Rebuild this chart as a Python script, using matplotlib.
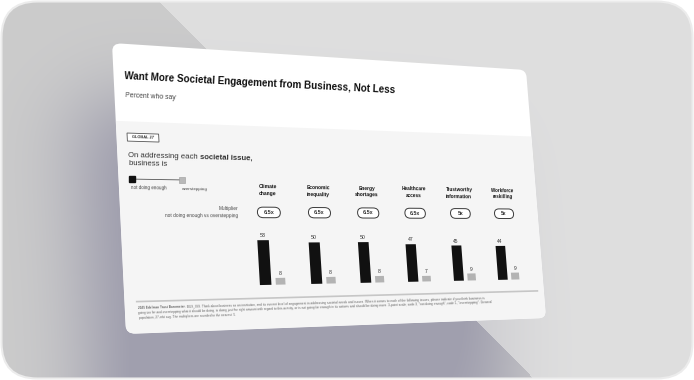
import numpy as np
import matplotlib
matplotlib.use("Agg")
import matplotlib.pyplot as plt
from matplotlib import transforms as mtransforms
from matplotlib import font_manager
from matplotlib.path import Path
from matplotlib.patches import FancyBboxPatch, Rectangle

# ---------------- data ----------------
categories = ["Climate\nchange", "Economic\ninequality", "Energy\nshortages",
              "Healthcare\naccess", "Trustworthy\ninformation", "Workforce\nreskilling"]
not_doing_enough = [53, 50, 50, 47, 45, 44]
overstepping = [8, 8, 8, 7, 9, 9]
multipliers = ["6.5x", "6.5x", "6.5x", "6.5x", "5x", "5x"]
series_labels = ["not doing enough", "overstepping"]
title = "Want More Societal Engagement from Business, Not Less"
subtitle = "Percent who say"
badge = "GLOBAL 27"
question_plain = "On addressing each "
question_bold = "societal issue,"
question_line2 = "business is"
multiplier_label = ["Multiplier", "not doing enough vs overstepping"]
footnote_bold = "2025 Edelman Trust Barometer."
footnote_rest = [
    " BUS_ISS. Think about business as an institution, and its current level of engagement in addressing societal needs and issues. When it comes to each of the following issues, please indicate if you think business is",
    "going too far and overstepping what it should be doing, is doing just the right amount with regard to this activity, or is not going far enough in its actions and should be doing more. 3-point scale; code 3, \"not doing enough\", code 1, \"overstepping\". General",
    "population, 27-mkt avg. The multipliers are rounded to the nearest .5.",
]

# ---------------- fonts ----------------
names = {f.name for f in font_manager.fontManager.ttflist}
BASE = ["Liberation Sans", "DejaVu Sans"]
HAS_NARROW = "Liberation Sans Narrow" in names
TITLE_FAM = ["Liberation Sans Narrow", "Liberation Sans", "DejaVu Sans"] if HAS_NARROW else BASE
TITLE_SIZE = 8.6 if HAS_NARROW else 7.3
plt.rcParams["font.family"] = BASE

W, H = 694, 380
fig = plt.figure(figsize=(W / 100, H / 100), dpi=100, facecolor="white")
ax = fig.add_axes([0, 0, 1, 1])
ax.set_xlim(0, W)
ax.set_ylim(H, 0)
ax.set_axis_off()
ax.set_autoscale_on(False)

# ---------------- perspective (slide -> pixels) ----------------
slide_corners = np.array([[0, 0], [1, 0], [1, 1], [0, 1]], float)
pixel_corners = np.array([[112, 43], [526, 70], [546, 318], [126, 334]], float)


def homography(src, dst):
    A, b = [], []
    for (u, v), (x, y) in zip(src, dst):
        A.append([u, v, 1, 0, 0, 0, -u * x, -v * x]); b.append(x)
        A.append([0, 0, 0, u, v, 1, -u * y, -v * y]); b.append(y)
    p = np.linalg.solve(np.array(A), np.array(b))
    return np.append(p, 1).reshape(3, 3)


M = homography(slide_corners, pixel_corners)


class Persp(mtransforms.Transform):
    input_dims = 2
    output_dims = 2

    def __init__(self, m):
        super().__init__()
        self.m = m

    def transform_non_affine(self, values):
        values = np.asarray(values, float).reshape(-1, 2)
        if len(values) == 0:
            return values
        P = np.column_stack([values, np.ones(len(values))]) @ self.m.T
        return P[:, :2] / P[:, 2:3]

    def transform_path_non_affine(self, path):
        return Path(self.transform_non_affine(path.vertices), path.codes)


HT = Persp(M) + ax.transData


def F(u, v):
    p = M @ np.array([u, v, 1.0])
    return p[0] / p[2], p[1] / p[2]


def vscale(u, v):
    x, y = F(u, v); x3, y3 = F(u, v + 1e-4)
    return np.hypot(x3 - x, y3 - y) / 1e-4


S_REF = vscale(0.0, 0.5)


def local(u, v):
    x, y = F(u, v); x2, y2 = F(u + 1e-4, v)
    d = np.array([x2 - x, y2 - y]); d /= np.hypot(*d)
    ang = -np.degrees(np.arctan2(d[1], d[0]))
    return x, y, ang, vscale(u, v) / S_REF, d


def put(u, v, s, size, ha="left", va="baseline", **kw):
    x, y, ang, sc, _ = local(u, v)
    kw.setdefault("color", "#1a1a1a")
    return ax.text(x, y, s, fontsize=size * sc, rotation=ang, rotation_mode="anchor",
                   ha=ha, va=va, zorder=6, **kw)


renderer = fig.canvas.get_renderer()


def text_w(s, size, **kw):
    t1 = ax.text(0, 0, s + "x", fontsize=size, **kw)
    t2 = ax.text(0, 0, "x", fontsize=size, **kw)
    w = t1.get_window_extent(renderer).width - t2.get_window_extent(renderer).width
    t1.remove(); t2.remove()
    return w


def put_mixed(u, v, parts, size, va="baseline", color="#1a1a1a", family=None):
    x, y, ang, sc, d = local(u, v)
    fam = family or BASE
    for s, wt in parts:
        ax.text(x, y, s, fontsize=size * sc, rotation=ang, rotation_mode="anchor",
                ha="left", va=va, fontweight=wt, color=color, family=fam, zorder=6)
        w = text_w(s, size * sc, fontweight=wt, family=fam)
        x += w * d[0]; y += w * d[1]


# ---------------- background ----------------
yy, xx = np.mgrid[0:H, 0:W] + 0.5
left = xx < 158 + 0.992 * yy
rgb = np.empty((H, W, 3))
rgb[:] = (223, 223, 223)
rgb[left] = (204, 204, 204)
shadow_path = Path(pixel_corners + np.array([-34, 55]))
mask = shadow_path.contains_points(np.column_stack([xx.ravel(), yy.ravel()])).reshape(H, W).astype(float)


def gk(n, s):
    i = np.arange(n)
    K = np.exp(-0.5 * ((i[:, None] - i[None, :]) / s) ** 2)
    return K / K.sum(1, keepdims=True)


S = gk(H, 38) @ mask @ gk(W, 38).T
S = np.clip(S * 1.15, 0, 1) * np.where(left, 1.0, 0.3)
C = np.array([160, 159, 174], float)
rgb = rgb * (1 - S[..., None]) + C * S[..., None]
im = ax.imshow(rgb.astype(np.uint8), extent=(0, W, H, 0), interpolation="bilinear", zorder=0)
frame = FancyBboxPatch((1.5, 1.5), W - 3, H - 3, boxstyle="round,pad=0,rounding_size=36",
                       fc="none", ec="#ececec", lw=1.5, zorder=10)
ax.add_patch(frame)
im.set_clip_path(frame)

# ---------------- card ----------------
card = FancyBboxPatch((0, 0), 1, 1, boxstyle="round,pad=0,rounding_size=0.02",
                      mutation_aspect=1.45, transform=HT, fc="white", ec="none", zorder=2)
ax.add_patch(card)
body = Rectangle((0, 0.272), 1, 0.728, transform=HT, fc="#f5f5f5", ec="none", zorder=2.1)
ax.add_patch(body)
body.set_clip_path(card)

# header texts
put(0.0217, 0.126, title, TITLE_SIZE, fontweight="bold", family=TITLE_FAM, color="#111111")
put(0.0217, 0.189, subtitle, 5.0, color="#444444")

# badge
ax.add_patch(Rectangle((0.022, 0.313), 0.066, 0.028, transform=HT, fc="white",
                       ec="#555555", lw=0.6, zorder=4))
put(0.055, 0.327, badge, 2.9, ha="center", va="center", fontweight="bold", color="#333333")

# question
put_mixed(0.0219, 0.397, [(question_plain, "normal"), (question_bold, "bold")], 5.6, color="#333333")
put(0.0219, 0.424, question_line2, 5.6, color="#333333")

# legend
lx0, lx1, lv = 0.028, 0.133, 0.4725
ax.plot([lx0, lx1], [lv, lv], transform=HT, color="#555555", lw=0.6, zorder=4)
ax.plot([lx0], [lv], transform=HT, marker="s", ms=4.2, color="#111111", zorder=5, ls="none")
ax.plot([lx1], [lv], transform=HT, marker="s", ms=4.0, mfc="#b8b8b8", mec="#9a9a9a", mew=0.4,
        zorder=5, ls="none")
put(0.024, 0.503, series_labels[0], 3.3, va="center", color="#444444")
put(0.131, 0.503, series_labels[1], 3.3, va="center", color="#444444")

# multiplier caption
put(0.2514, 0.5733, multiplier_label[0], 3.6, ha="right", va="center", color="#444444")
put(0.2514, 0.598, multiplier_label[1], 3.6, ha="right", va="center", color="#444444")

# columns
U0, DU = 0.3205, 0.1173
V_BASE, K = 0.845, 0.00302
BLACK_OFF, GRAY_OFF = -0.017, 0.017
BLACK_W, GRAY_W = 0.026, 0.022
idx = np.arange(len(categories))
col_u = U0 + DU * idx

for i, (lab, mult) in enumerate(zip(categories, multipliers)):
    u = col_u[i]
    put(u, 0.505, lab, 3.8, ha="center", va="center", fontweight="bold",
        linespacing=1.45, multialignment="center", color="#111111")
    pw, ph = 0.052, 0.038
    ax.add_patch(FancyBboxPatch((u - pw / 2, 0.585 - ph / 2), pw, ph,
                                boxstyle="round,pad=0,rounding_size=0.013", mutation_aspect=1.46,
                                transform=HT, fc="white", ec="#3a3a3a", lw=0.7, zorder=4))
    put(u, 0.585, mult, 4.2, ha="center", va="center", fontweight="bold", color="#333333")

CT = mtransforms.Affine2D().scale(DU, -K).translate(U0, V_BASE) + HT
ax.bar(idx + BLACK_OFF / DU, not_doing_enough, width=BLACK_W / DU, color="#111111",
       transform=CT, zorder=4)
ax.bar(idx + GRAY_OFF / DU, overstepping, width=GRAY_W / DU, color="#b3b3b3",
       transform=CT, zorder=4)
for i in idx:
    put(col_u[i] + BLACK_OFF, V_BASE - K * not_doing_enough[i] - 0.011, str(not_doing_enough[i]),
        4.0, ha="center", color="#333333")
    put(col_u[i] + GRAY_OFF, V_BASE - K * overstepping[i] - 0.011, str(overstepping[i]),
        4.0, ha="center", color="#333333")

# separator and footnote
ax.plot([0.025, 0.982], [0.892, 0.892], transform=HT, color="#c6c6c6", lw=1.2, zorder=4)
put_mixed(0.027, 0.914, [(footnote_bold, "bold"), (footnote_rest[0], "normal")], 2.2,
          va="center", color="#666666")
put(0.027, 0.931, footnote_rest[1], 2.2, va="center", color="#666666")
put(0.027, 0.948, footnote_rest[2], 2.2, va="center", color="#666666")

ax.set_xlim(0, W)
ax.set_ylim(H, 0)
fig.savefig("out.png", dpi=100, facecolor="white")
